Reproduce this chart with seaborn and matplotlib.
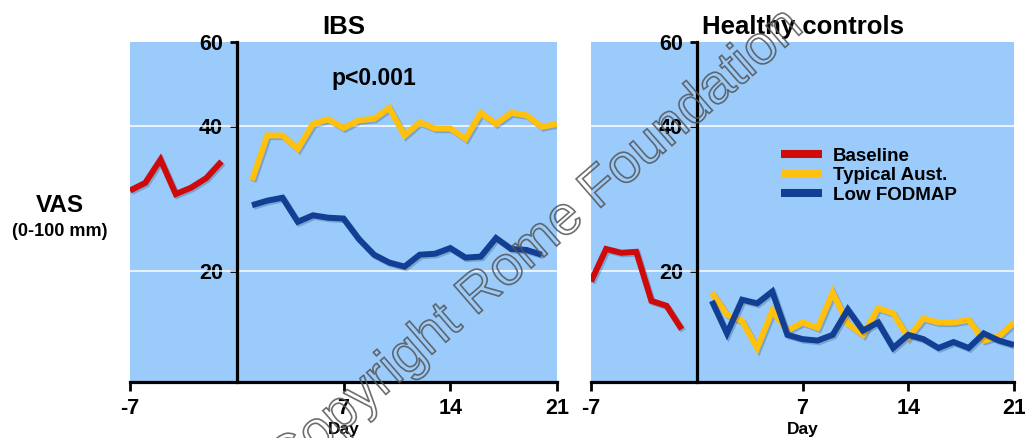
import numpy as np
import pandas as pd
import matplotlib
matplotlib.use("Agg")
import matplotlib.pyplot as plt
import matplotlib.patheffects as pe
from matplotlib.lines import Line2D
from matplotlib.ticker import FixedLocator, FixedFormatter, NullLocator
from matplotlib.textpath import TextPath
from matplotlib.patches import PathPatch
from matplotlib.font_manager import FontProperties
from matplotlib.transforms import Affine2D, IdentityTransform
import seaborn as sns

# ---- data: daily VAS scores (0-100 mm) ----
baseline_days = [-7, -6, -5, -4, -3, -2, -1]
diet_days = list(range(1, 22))

ibs_baseline = [29.4, 30.5, 34.1, 28.9, 29.8, 31.2, 33.8]
ibs_typical = [30.9, 38.3, 38.3, 35.9, 40.5, 41.4, 39.7, 41.2, 41.5, 43.7, 38.3,
               40.8, 39.6, 39.6, 37.7, 42.7, 40.5, 42.7, 42.2, 39.9, 40.5]
ibs_low = [27.4, 28.0, 28.4, 25.3, 26.1, 25.8, 25.7, 23.3, 21.6, 20.8, 20.4,
           21.6, 21.7, 22.3, 21.3, 21.4, 23.4, 22.2, 22.1, 21.6]

hc_baseline = [19.0, 22.2, 21.8, 21.9, 17.3, 16.9, 15.1]
hc_typical = [18.0, 16.2, 15.7, 13.8, 16.5, 15.0, 15.6, 15.2, 18.0, 15.5, 14.7,
              16.7, 16.3, 14.5, 15.9, 15.6, 15.6, 15.8, 14.3, 14.6, 15.6]
hc_low = [17.3, 14.8, 17.4, 17.1, 18.1, 14.7, 14.4, 14.3, 14.7, 16.6, 15.0,
          15.6, 13.8, 14.7, 14.4, 13.8, 14.2, 13.8, 14.8, 14.3, 14.0]

series_names = ["Baseline", "Typical Aust.", "Low FODMAP"]
panel_titles = ["IBS", "Healthy controls"]
x_ticks = [-7, 7, 14, 21]
y_ticks = [20, 40, 60]

colors = {"Baseline": "#CF0A0A", "Typical Aust.": "#FFC10E", "Low FODMAP": "#123F94"}
bg_color = "#9ACBFA"


def panel_frame(base, typical, low):
    parts = [
        pd.DataFrame({"day": baseline_days, "vas": base, "diet": "Baseline"}),
        pd.DataFrame({"day": diet_days[:len(typical)], "vas": typical, "diet": "Typical Aust."}),
        pd.DataFrame({"day": diet_days[:len(low)], "vas": low, "diet": "Low FODMAP"}),
    ]
    return pd.concat(parts, ignore_index=True)


sns.set_theme(style="white")
plt.rcParams["font.family"] = ["Liberation Sans", "DejaVu Sans"]
plt.rcParams["font.weight"] = "bold"
for key in ["text.color", "axes.labelcolor", "xtick.color", "ytick.color"]:
    plt.rcParams[key] = "black"

W, H = 1025, 438
fig = plt.figure(figsize=(W / 100, H / 100), dpi=100)
fig.patch.set_facecolor("white")

ax_ibs = fig.add_axes([130 / W, 1 - 382 / H, (557 - 130) / W, (382 - 42) / H])
ax_hc = fig.add_axes([591 / W, 1 - 382 / H, (1014 - 591) / W, (382 - 42) / H])

frames = [panel_frame(ibs_baseline, ibs_typical, ibs_low),
          panel_frame(hc_baseline, hc_typical, hc_low)]

shadow = [pe.SimpleLineShadow(offset=(1.2, -1.2), alpha=0.25, shadow_color="#1a3050"),
          pe.Normal()]

for ax, df, title in zip([ax_ibs, ax_hc], frames, panel_titles):
    ax.set_facecolor(bg_color)
    ax.set_yscale("log")
    ax.set_ylim(11.72, 60)
    ax.set_xlim(-7, 21)

    # white horizontal reference lines
    for yv in y_ticks[:-1]:
        ax.axhline(yv, color="white", lw=1.1, zorder=1)

    sns.lineplot(data=df, x="day", y="vas", hue="diet", hue_order=series_names,
                 palette=colors, lw=4.3, legend=False, ax=ax, zorder=3,
                 sort=True, estimator=None)
    for ln in ax.get_lines()[len(y_ticks) - 1:]:
        ln.set_solid_joinstyle("miter")
        ln.set_solid_capstyle("butt")
        ln.set_path_effects(shadow)

    # axes styling: y axis drawn at day 0
    for s in ["top", "right"]:
        ax.spines[s].set_visible(False)
    ax.spines["left"].set_position(("data", 0))
    ax.spines["left"].set_linewidth(2.3)
    ax.spines["left"].set_color("black")
    ax.spines["bottom"].set_linewidth(2.3)
    ax.spines["bottom"].set_color("black")
    ax.spines["left"].set_zorder(4)

    ax.yaxis.set_major_locator(FixedLocator(y_ticks))
    ax.yaxis.set_major_formatter(FixedFormatter([str(v) for v in y_ticks]))
    ax.yaxis.set_minor_locator(NullLocator())
    ax.set_xticks(x_ticks)
    ax.set_xticklabels([str(v) for v in x_ticks])

    ax.tick_params(axis="y", direction="out", length=5, width=2, color="black",
                   labelcolor="black", labelsize=15.5, pad=5, left=True)
    ax.tick_params(axis="x", direction="out", length=6.5, width=2, color="black",
                   labelcolor="black", labelsize=15.5, pad=5, bottom=True)
    for lab in ax.get_xticklabels() + ax.get_yticklabels():
        lab.set_fontweight("bold")

    ax.set_ylabel("")
    ax.set_xlabel("Day", fontsize=12.5, fontweight="bold", labelpad=2, color="black")
    ax.set_title(title, fontsize=18.5, fontweight="bold", pad=6, color="black")

# significance note
ax_ibs.text(0.571, 0.893, "p<0.001", transform=ax_ibs.transAxes, ha="center",
            va="center", fontsize=16.5, fontweight="bold", color="black", zorder=5)

# y-axis label
fig.text(60 / W, 1 - 206 / H, "VAS", ha="center", va="center", fontsize=17.5,
         fontweight="bold", color="black")
fig.text(60 / W, 1 - 231 / H, "(0-100 mm)", ha="center", va="center", fontsize=13,
         fontweight="bold", color="black")

# legend
handles = [Line2D([0], [0], color=colors[n], lw=5.8, solid_capstyle="butt")
           for n in series_names]
leg = ax_hc.legend(handles, series_names, loc="upper left",
                   bbox_to_anchor=(0.45, 0.69), frameon=False,
                   prop={"weight": "bold", "size": 13.5}, handlelength=2.15,
                   handletextpad=0.6, labelspacing=0.14, borderpad=0,
                   borderaxespad=0)
for t in leg.get_texts():
    t.set_color("black")

# outlined diagonal watermark
wm_path = TextPath((0, 0), "Copyright Rome Foundation", size=55,
                   prop=FontProperties(family="Liberation Sans", weight="normal"))
bb = wm_path.get_extents()
wm_tr = (Affine2D().translate(-(bb.x0 + bb.x1) / 2, -(bb.y0 + bb.y1) / 2)
         .rotate_deg(41).translate(536, H - 245))
wm_patch = PathPatch(wm_tr.transform_path(wm_path), facecolor="none",
                     edgecolor="#555555", lw=1.2, alpha=0.85,
                     transform=IdentityTransform(), zorder=10)
fig.add_artist(wm_patch)

fig.savefig("out.png", dpi=100, facecolor="white")
